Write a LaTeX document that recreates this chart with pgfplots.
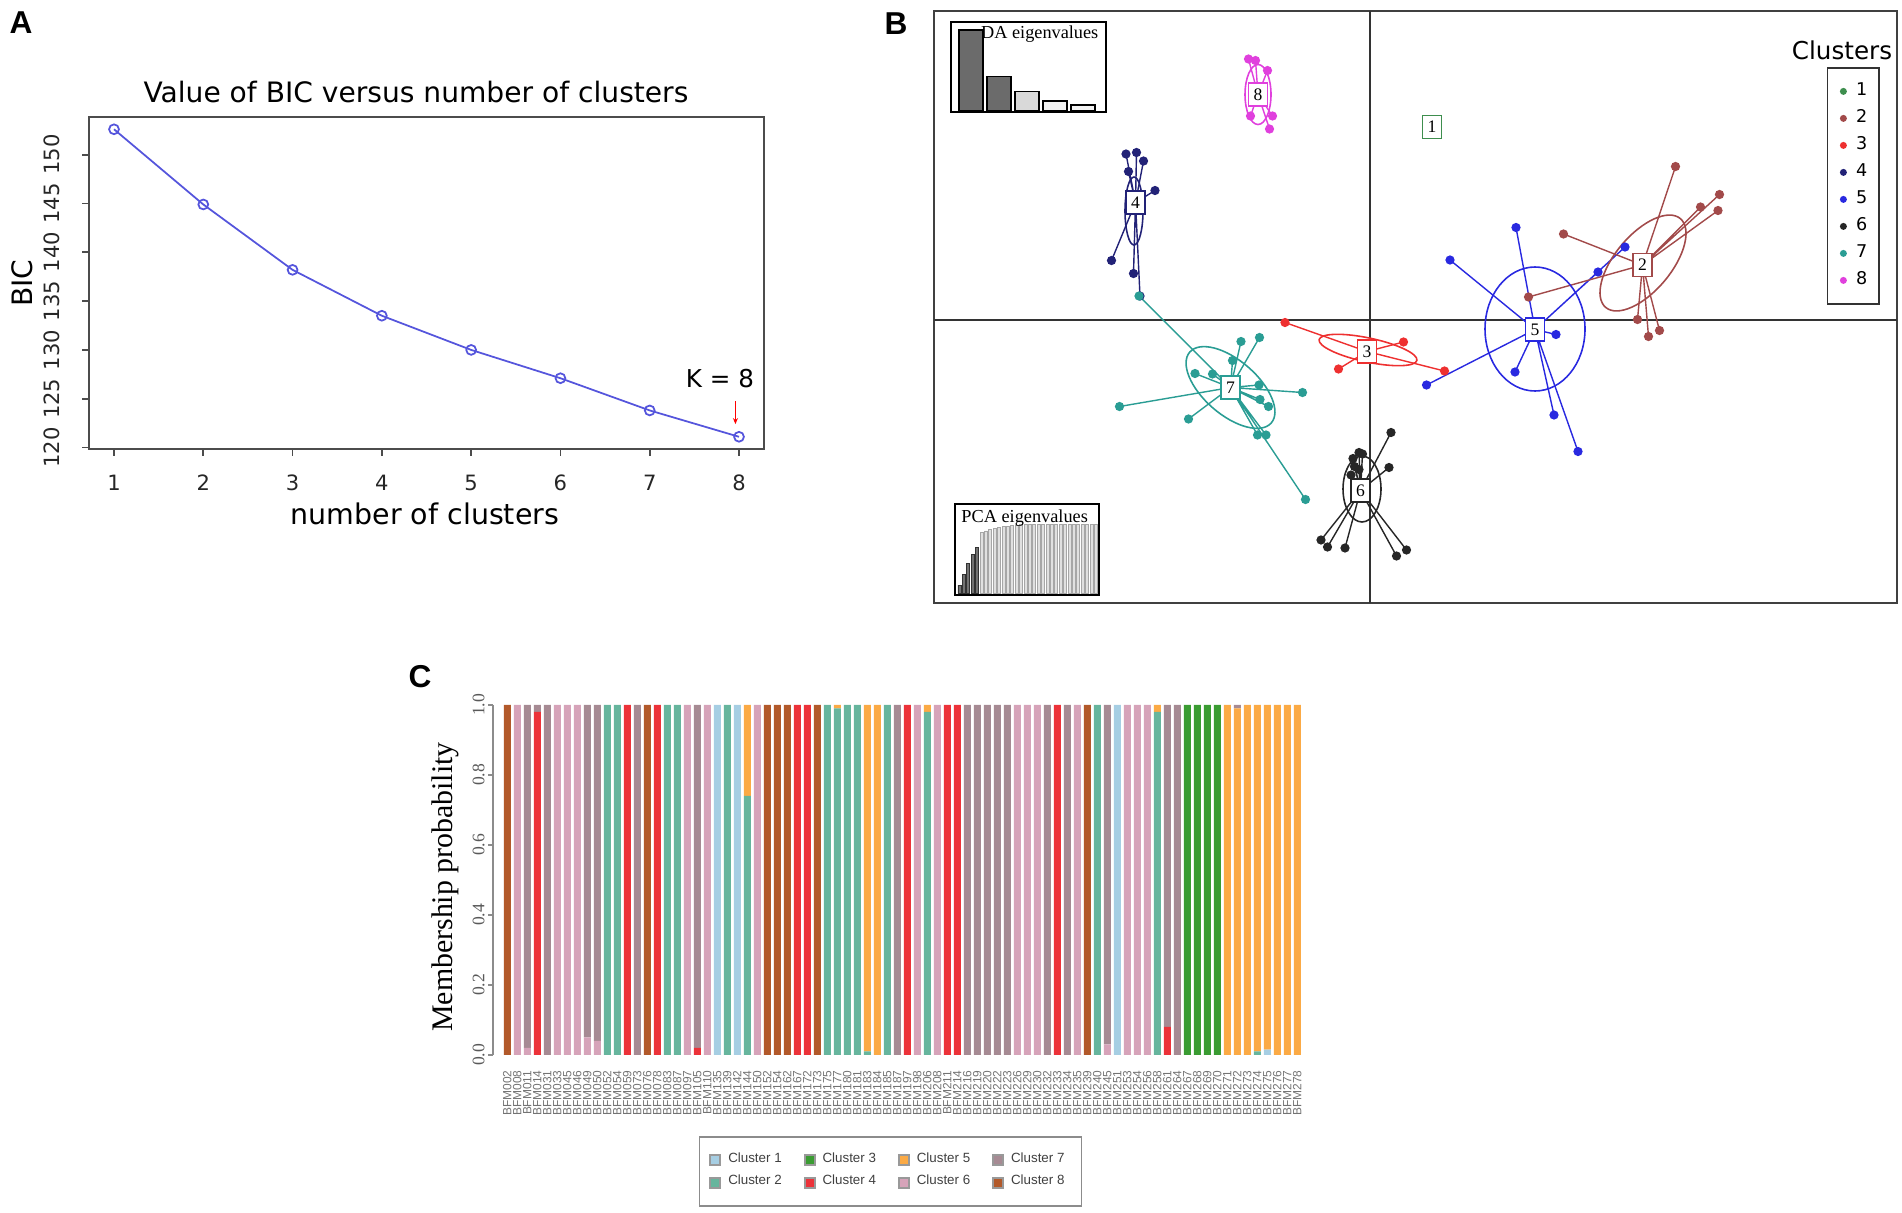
\documentclass[border=0pt]{standalone}
\usepackage{fontspec}
\usepackage{pgfplots}
\usepackage{pgfplotstable}
\pgfplotsset{compat=1.18}
\usetikzlibrary{arrows.meta}
\setmainfont{DejaVu Sans}
\newfontfamily\dsans{DejaVu Sans}
\newfontfamily\lsans{Liberation Sans}
\newfontfamily\lserif{Liberation Serif}
\newcommand{\fs}[1]{\fontsize{#1}{#1}\selectfont}

% panel A / B colours
\definecolor{bicblue}{RGB}{85,85,220}
\definecolor{b1}{RGB}{62,142,78}
\definecolor{b2}{RGB}{162,74,74}
\definecolor{b3}{RGB}{238,48,48}
\definecolor{b4}{RGB}{34,34,119}
\definecolor{b5}{RGB}{41,41,224}
\definecolor{b6}{RGB}{38,38,38}
\definecolor{b7}{RGB}{42,157,148}
\definecolor{b8}{RGB}{224,64,221}
% panel C colours
\definecolor{k1}{RGB}{166,206,227}
\definecolor{k2}{RGB}{102,181,157}
\definecolor{k3}{RGB}{58,156,50}
\definecolor{k4}{RGB}{236,50,57}
\definecolor{k5}{RGB}{251,170,69}
\definecolor{k6}{RGB}{214,163,185}
\definecolor{k7}{RGB}{166,138,147}
\definecolor{k8}{RGB}{178,89,42}

% membership probabilities, one row per individual
\pgfplotstableread{
id c1 c2 c3 c4 c5 c6 c7 c8
1 0 0 0 0 0 0 0 1
2 0 0 0 0 0 1 0 0
3 0 0 0 0 0 0.02 0.98 0
4 0 0 0 0.98 0 0 0.02 0
5 0 0 0 0 0 0 1 0
6 0 0 0 0 0 1 0 0
7 0 0 0 0 0 1 0 0
8 0 0 0 0 0 1 0 0
9 0 0 0 0 0 0.05 0.95 0
10 0 0 0 0 0 0.04 0.96 0
11 0 1 0 0 0 0 0 0
12 0 1 0 0 0 0 0 0
13 0 0 0 1 0 0 0 0
14 0 0 0 0 0 0 1 0
15 0 0 0 0 0 0 0 1
16 0 0 0 1 0 0 0 0
17 0 1 0 0 0 0 0 0
18 0 1 0 0 0 0 0 0
19 0 0 0 0 0 1 0 0
20 0 0 0 0.02 0 0 0.98 0
21 0 0 0 0 0 1 0 0
22 1 0 0 0 0 0 0 0
23 0 1 0 0 0 0 0 0
24 1 0 0 0 0 0 0 0
25 0 0.74 0 0 0.26 0 0 0
26 0 0 0 0 0 1 0 0
27 0 0 0 0 0 0 0 1
28 0 0 0 0 0 0 0 1
29 0 0 0 0 0 0 0 1
30 0 0 0 1 0 0 0 0
31 0 0 0 1 0 0 0 0
32 0 0 0 0 0 0 0 1
33 0 1 0 0 0 0 0 0
34 0 0.99 0 0 0.01 0 0 0
35 0 1 0 0 0 0 0 0
36 0 1 0 0 0 0 0 0
37 0 0.01 0 0 0.99 0 0 0
38 0 0 0 0 1 0 0 0
39 0 1 0 0 0 0 0 0
40 0 0 0 0 0 0 1 0
41 0 0 0 1 0 0 0 0
42 0 0 0 0 0 1 0 0
43 0 0.98 0 0 0.02 0 0 0
44 0 0 0 0 0 1 0 0
45 0 0 0 1 0 0 0 0
46 0 0 0 1 0 0 0 0
47 0 0 0 0 0 0 1 0
48 0 0 0 0 0 0 1 0
49 0 0 0 0 0 0 1 0
50 0 0 0 0 0 0 1 0
51 0 0 0 0 0 0 1 0
52 0 0 0 0 0 1 0 0
53 0 0 0 0 0 1 0 0
54 0 0 0 0 0 1 0 0
55 0 0 0 0 0 0 1 0
56 0 0 0 1 0 0 0 0
57 0 0 0 0 0 0 1 0
58 0 0 0 0 0 1 0 0
59 0 0 0 0 0 0 0 1
60 0 1 0 0 0 0 0 0
61 0 0 0 0 0 0.03 0.97 0
62 1 0 0 0 0 0 0 0
63 0 0 0 0 0 1 0 0
64 0 0 0 0 0 1 0 0
65 0 0 0 0 0 1 0 0
66 0 0.98 0 0 0.02 0 0 0
67 0 0 0 0.08 0 0 0.92 0
68 0 0 0 0 0 0 1 0
69 0 0 1 0 0 0 0 0
70 0 0 1 0 0 0 0 0
71 0 0 1 0 0 0 0 0
72 0 0 1 0 0 0 0 0
73 0 0 0 0 1 0 0 0
74 0 0 0 0 0.99 0 0.01 0
75 0 0 0 0 1 0 0 0
76 0 0.01 0 0 0.99 0 0 0
77 0.015 0 0 0 0.985 0 0 0
78 0 0 0 0 1 0 0 0
79 0 0 0 0 1 0 0 0
80 0 0 0 0 1 0 0 0
}\memb

\newcommand{\clell}[6]{\draw[#1, line width=0.45pt, rotate around={#6:(axis cs:#2,#3)}] (axis cs:#2,#3) ellipse [x radius=#4cm, y radius=#5cm];}
\newcommand{\clbox}[4]{\node[draw=#1, fill=white, inner sep=0pt, minimum width=0.19cm, minimum height=0.23cm, line width=0.45pt, font=\lserif\fs{5}] at (axis cs:#2,#3) {#4};}

\begin{document}
\begin{tikzpicture}
\useasboundingbox (0,0) rectangle (19.02,12.12);

% ---------------- A ----------------
\begin{axis}[at={(0.89cm,7.63cm)}, anchor=south west, scale only axis,
  width=6.75cm, height=3.32cm,
  xmin=0.72, xmax=8.28, ymin=119.85, ymax=153.86,
  xtick={1,...,8}, ytick={120,125,...,150},
  tick align=outside, tick pos=left, major tick length=0.07cm,
  axis line style={draw=black!70, line width=0.6pt},
  tick style={draw=black!70, line width=0.5pt},
  ticklabel style={font=\dsans\fs{6}, text=black!85},
  /pgf/number format/assume math mode=true,
  yticklabel style={rotate=90, anchor=south},
  xticklabel shift=0.065cm, yticklabel shift=0.1cm]
\addplot[color=bicblue, line width=0.5pt, mark=o, mark size=1.4pt, mark options={solid}]
  coordinates {(1,152.6) (2,144.9) (3,138.2) (4,133.5) (5,130.0) (6,127.1) (7,123.8) (8,121.1)};
\draw[red, line width=0.4pt, -{Stealth[length=0.06cm, width=0.05cm]}] (axis cs:7.96,124.76) -- (axis cs:7.96,122.4);
\end{axis}
\node[font=\dsans\fs{8}] at (4.16,11.20) {Value of BIC versus number of clusters};
\node[font=\dsans\fs{8}, rotate=90] at (0.22,9.29) {BIC};
\node[font=\dsans\fs{8.1}] at (4.25,6.98) {number of clusters};
\node[font=\dsans\fs{7}] at (7.20,8.33) {K = 8};

% ---------------- B ----------------
\begin{axis}[at={(9.34cm,6.09cm)}, anchor=south west, x=0.5cm, y=0.5cm,
  xmin=-8.72, xmax=10.54, ymin=-5.66, ymax=6.18, ticks=none,
  axis line style={draw=black!75, line width=0.6pt},
  legend style={at={(0.9823,0.9054)}, anchor=north east, draw=black!80, line width=0.5pt,
    font=\dsans\fs{5}, row sep=0pt, inner xsep=0.1cm, inner ysep=0.1cm,
    nodes={inner sep=0.5pt, minimum height=0.27cm}},
  legend cell align=left,
  legend image code/.code={\path[draw=none, fill=none] (0cm,0cm) rectangle (0.17cm,0.01cm);
    \fill[#1, draw=none] (0.06cm,0cm) circle[radius=0.035cm];}]
\addplot[black!80, line width=0.6pt, forget plot] coordinates {(0,-5.66) (0,6.18)};
\addplot[black!80, line width=0.6pt, forget plot] coordinates {(-8.72,0) (10.54,0)};
% rays from each group centre to its members (centre, member, centre, member, ...)
\pgfplotsset{every axis plot/.append style={line width=0.4pt, mark=*, mark size=1.1pt,
  mark repeat=2, mark phase=2, forget plot}}
\addplot[b8] coordinates {(-2.24,4.51) (-2.43,5.22) (-2.24,4.51) (-2.29,5.19) (-2.24,4.51) (-2.05,4.99)
  (-2.24,4.51) (-2.39,4.08) (-2.24,4.51) (-1.95,4.08) (-2.24,4.51) (-2.01,3.82)};
\addplot[b4] coordinates {(-4.69,2.35) (-4.88,3.32) (-4.69,2.35) (-4.67,3.35) (-4.69,2.35) (-4.53,3.18)
  (-4.69,2.35) (-4.83,2.97) (-4.69,2.35) (-4.30,2.59) (-4.69,2.35) (-5.17,1.19) (-4.69,2.35) (-4.73,0.93)
  (-4.69,2.35) (-4.60,0.48)};
\addplot[b7] coordinates {(-2.79,-1.35) (-4.62,0.48) (-2.79,-1.35) (-2.58,-0.43) (-2.79,-1.35) (-2.21,-0.35)
  (-2.79,-1.35) (-2.75,-0.81) (-2.79,-1.35) (-3.15,-1.08) (-2.79,-1.35) (-3.50,-1.07) (-2.79,-1.35) (-2.22,-1.30)
  (-2.79,-1.35) (-1.35,-1.45) (-2.79,-1.35) (-2.20,-1.59) (-2.79,-1.35) (-2.03,-1.73) (-2.79,-1.35) (-5.01,-1.73)
  (-2.79,-1.35) (-3.63,-1.98) (-2.79,-1.35) (-2.25,-2.30) (-2.79,-1.35) (-2.08,-2.30) (-2.79,-1.35) (-1.29,-3.59)};
\addplot[b3] coordinates {(-0.06,-0.63) (-1.70,-0.05) (-0.06,-0.63) (0.67,-0.44) (-0.06,-0.63) (-0.63,-0.98)
  (-0.06,-0.63) (1.49,-1.02)};
\addplot[b5] coordinates {(3.30,-0.19) (2.92,1.85) (3.30,-0.19) (1.60,1.20) (3.30,-0.19) (4.56,0.96)
  (3.30,-0.19) (5.10,1.46) (3.30,-0.19) (3.72,-0.29) (3.30,-0.19) (2.90,-1.04) (3.30,-0.19) (1.13,-1.30)
  (3.30,-0.19) (3.68,-1.90) (3.30,-0.19) (4.16,-2.63)};
\addplot[b2] coordinates {(5.45,1.10) (6.11,3.07) (5.45,1.10) (6.99,2.51) (5.45,1.10) (6.61,2.26)
  (5.45,1.10) (6.96,2.19) (5.45,1.10) (3.87,1.72) (5.45,1.10) (3.17,0.46) (5.45,1.10) (5.35,0.01)
  (5.45,1.10) (5.57,-0.33) (5.45,1.10) (5.79,-0.21)};
\addplot[b6] coordinates {(-0.19,-3.41) (-0.22,-2.65) (-0.19,-3.41) (-0.15,-2.68) (-0.19,-3.41) (-0.34,-2.77)
  (-0.19,-3.41) (-0.31,-2.93) (-0.19,-3.41) (-0.22,-2.99) (-0.19,-3.41) (-0.38,-3.10) (-0.19,-3.41) (0.42,-2.25)
  (-0.19,-3.41) (0.38,-2.95) (-0.19,-3.41) (-0.98,-4.40) (-0.19,-3.41) (-0.85,-4.54) (-0.19,-3.41) (-0.50,-4.56)
  (-0.19,-3.41) (0.53,-4.72) (-0.19,-3.41) (0.73,-4.60)};
% inertia ellipses
\clell{b8}{-2.24}{4.51}{0.13}{0.30}{0}
\clell{b4}{-4.72}{2.18}{0.09}{0.34}{0}
\clell{b7}{-2.79}{-1.35}{0.54}{0.27}{-41}
\clell{b3}{-0.04}{-0.60}{0.50}{0.12}{-12}
\clell{b5}{3.30}{-0.18}{0.50}{0.62}{0}
\clell{b2}{5.46}{1.14}{0.58}{0.28}{50}
\clell{b6}{-0.16}{-3.38}{0.19}{0.33}{0}
\clbox{b8}{-2.24}{4.51}{8}
\clbox{b1}{1.24}{3.86}{1}
\clbox{b4}{-4.69}{2.35}{4}
\clbox{b7}{-2.79}{-1.35}{7}
\clbox{b3}{-0.06}{-0.63}{3}
\clbox{b5}{3.30}{-0.19}{5}
\clbox{b2}{5.45}{1.10}{2}
\clbox{b6}{-0.19}{-3.41}{6}
\addlegendimage{fill=b1}\addlegendentry{1}
\addlegendimage{fill=b2}\addlegendentry{2}
\addlegendimage{fill=b3}\addlegendentry{3}
\addlegendimage{fill=b4}\addlegendentry{4}
\addlegendimage{fill=b5}\addlegendentry{5}
\addlegendimage{fill=b6}\addlegendentry{6}
\addlegendimage{fill=b7}\addlegendentry{7}
\addlegendimage{fill=b8}\addlegendentry{8}
\end{axis}
\node[font=\dsans\fs{7}] at (18.42,11.62) {Clusters};

% DA eigenvalues inset
\begin{axis}[at={(9.51cm,11.00cm)}, anchor=south west, scale only axis,
  width=1.55cm, height=0.90cm, xmin=0.286, xmax=5.82, ymin=-1, ymax=109.6,
  ticks=none, axis background/.style={fill=white},
  axis line style={draw=black, line width=0.5pt}]
\node[anchor=east, font=\lserif\fs{5.2}, inner sep=0pt] at (rel axis cs:0.955,0.867) {DA eigenvalues};
\addplot[ybar, bar width=0.24cm, bar shift=0pt, fill=black!58, draw=black, line width=0.4pt]
  coordinates {(1,100) (2,42.5)};
\addplot[ybar, bar width=0.24cm, bar shift=0pt, fill=black!15, draw=black, line width=0.4pt]
  coordinates {(3,24.4)};
\addplot[ybar, bar width=0.24cm, bar shift=0pt, fill=black!5, draw=black, line width=0.4pt]
  coordinates {(4,12.3) (5,7.4)};
\end{axis}

% PCA eigenvalues inset
\begin{axis}[at={(9.55cm,6.17cm)}, anchor=south west, scale only axis,
  width=1.44cm, height=0.91cm, xmin=-0.02, xmax=32.7, ymin=-0.022, ymax=1.288,
  ticks=none, axis background/.style={fill=white},
  axis line style={draw=black, line width=0.5pt}]
\addplot[ybar, bar width=0.03cm, bar shift=0pt, fill=black!55, draw=black!80, line width=0.2pt]
  coordinates {(1,0.12) (2,0.28) (3,0.43) (4,0.56) (5,0.66)};
\addplot[ybar, bar width=0.03cm, bar shift=0pt, fill=black!12, draw=black!35, line width=0.2pt]
  coordinates {(6,0.88) (7,0.90) (8,0.92) (9,0.935) (10,0.95) (11,0.96) (12,0.97) (13,0.977)
   (14,0.984) (15,0.99) (16,0.994) (17,0.997) (18,1) (19,1) (20,1) (21,1) (22,1) (23,1) (24,1)
   (25,1) (26,1) (27,1) (28,1) (29,1) (30,1) (31,1) (32,1)};
\node[anchor=west, font=\lserif\fs{5.2}, inner sep=0pt] at (rel axis cs:0.04,0.846) {PCA eigenvalues};
\end{axis}

% ---------------- C ----------------
\begin{axis}[at={(4.93cm,1.57cm)}, anchor=south west, scale only axis,
  width=8.09cm, height=3.5cm, xmin=-0.43, xmax=80.47, ymin=0, ymax=1,
  ybar stacked, bar width=0.07cm,
  axis x line*=bottom, axis y line*=left,
  x axis line style={draw=none}, y axis line style={draw=black!45, line width=0.4pt},
  xtick={1,...,80}, major x tick style={draw=none},
  xticklabels={BFM002,BFM008,BFM011,BFM014,BFM031,BFM033,BFM045,BFM046,BFM049,BFM050,
    BFM052,BFM054,BFM059,BFM073,BFM076,BFM078,BFM083,BFM087,BFM097,BFM105,
    BFM110,BFM135,BFM139,BFM142,BFM144,BFM150,BFM152,BFM154,BFM162,BFM167,
    BFM172,BFM173,BFM175,BFM177,BFM180,BFM181,BFM183,BFM184,BFM185,BFM187,
    BFM197,BFM198,BFM206,BFM208,BFM211,BFM214,BFM216,BFM219,BFM220,BFM222,
    BFM223,BFM226,BFM229,BFM230,BFM232,BFM233,BFM234,BFM235,BFM239,BFM240,
    BFM245,BFM251,BFM253,BFM254,BFM256,BFM258,BFM261,BFM264,BFM267,BFM268,
    BFM269,BFM270,BFM271,BFM272,BFM273,BFM274,BFM275,BFM276,BFM277,BFM278},
  xticklabel style={rotate=90, anchor=east, font=\lsans\fs{3.4}, text=black!55, inner sep=0pt},
  xticklabel shift=0.1cm,
  ytick={0,0.2,0.4,0.6,0.8,1.0}, tick align=outside, major tick length=0.05cm,
  major y tick style={draw=black!45, line width=0.4pt},
  yticklabel style={rotate=90, anchor=south, font=\lserif\fs{5}, text=black!65,
    /pgf/number format/.cd, fixed, fixed zerofill, precision=1, assume math mode=true},
  yticklabel shift=-0.09cm]
\addplot[fill=k1, draw=none] table[x=id, y=c1] {\memb};
\addplot[fill=k2, draw=none] table[x=id, y=c2] {\memb};
\addplot[fill=k3, draw=none] table[x=id, y=c3] {\memb};
\addplot[fill=k4, draw=none] table[x=id, y=c4] {\memb};
\addplot[fill=k5, draw=none] table[x=id, y=c5] {\memb};
\addplot[fill=k6, draw=none] table[x=id, y=c6] {\memb};
\addplot[fill=k7, draw=none] table[x=id, y=c7] {\memb};
\addplot[fill=k8, draw=none] table[x=id, y=c8] {\memb};
\end{axis}
\node[font=\lserif\fs{8.5}, rotate=90] at (4.45,3.25) {Membership probability};

% legend of C
\begin{axis}[hide axis, scale only axis, width=3cm, height=0.4cm,
  at={(8.905cm,0.405cm)}, anchor=center, xmin=0, xmax=1, ymin=0, ymax=1,
  legend columns=4,
  legend style={at={(0.5,0.5)}, anchor=center, draw=black!45, line width=0.5pt,
    font=\lsans\fs{3.8}, text=black!75, inner xsep=0.1cm, inner ysep=0.09cm, row sep=-0.065cm,
    /tikz/every even column/.append style={column sep=0.15cm}},
  legend cell align=left,
  legend image code/.code={\draw[#1] (0cm,-0.05cm) rectangle (0.1cm,0.05cm);}]
\addlegendimage{fill=k1, draw=black!40}\addlegendentry{Cluster 1}
\addlegendimage{fill=k3, draw=black!40}\addlegendentry{Cluster 3}
\addlegendimage{fill=k5, draw=black!40}\addlegendentry{Cluster 5}
\addlegendimage{fill=k7, draw=black!40}\addlegendentry{Cluster 7}
\addlegendimage{fill=k2, draw=black!40}\addlegendentry{Cluster 2}
\addlegendimage{fill=k4, draw=black!40}\addlegendentry{Cluster 4}
\addlegendimage{fill=k6, draw=black!40}\addlegendentry{Cluster 6}
\addlegendimage{fill=k8, draw=black!40}\addlegendentry{Cluster 8}
\end{axis}

% panel letters
\node[font=\lsans\bfseries\fs{9}] at (0.21,11.89) {A};
\node[font=\lsans\bfseries\fs{9}] at (8.96,11.88) {B};
\node[font=\lsans\bfseries\fs{9}] at (4.20,5.35) {C};
\end{tikzpicture}
\end{document}
